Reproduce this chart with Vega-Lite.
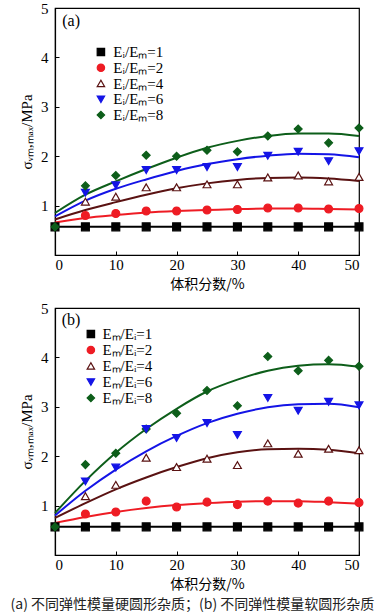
{
  "$schema": "https://vega.github.io/schema/vega-lite/v6.json",
  "background": "#ffffff",
  "padding": {"left": 10, "top": 0, "right": 2, "bottom": 0},
  "datasets": {
    "pa": [
      {"s": "1", "x": 0, "y": 0.57}, {"s": "1", "x": 5, "y": 0.57}, {"s": "1", "x": 10, "y": 0.57}, {"s": "1", "x": 15, "y": 0.57}, {"s": "1", "x": 20, "y": 0.57}, {"s": "1", "x": 25, "y": 0.57}, {"s": "1", "x": 30, "y": 0.57}, {"s": "1", "x": 35, "y": 0.57}, {"s": "1", "x": 40, "y": 0.57}, {"s": "1", "x": 45, "y": 0.57}, {"s": "1", "x": 50, "y": 0.57},
      {"s": "2", "x": 5, "y": 0.80}, {"s": "2", "x": 10, "y": 0.84}, {"s": "2", "x": 15, "y": 0.89}, {"s": "2", "x": 20, "y": 0.89}, {"s": "2", "x": 25, "y": 0.91}, {"s": "2", "x": 30, "y": 0.92}, {"s": "2", "x": 35, "y": 0.95}, {"s": "2", "x": 40, "y": 0.95}, {"s": "2", "x": 45, "y": 0.93}, {"s": "2", "x": 50, "y": 0.94},
      {"s": "4", "x": 5, "y": 1.08}, {"s": "4", "x": 10, "y": 1.18}, {"s": "4", "x": 15, "y": 1.37}, {"s": "4", "x": 20, "y": 1.37}, {"s": "4", "x": 25, "y": 1.43}, {"s": "4", "x": 30, "y": 1.43}, {"s": "4", "x": 35, "y": 1.57}, {"s": "4", "x": 40, "y": 1.61}, {"s": "4", "x": 45, "y": 1.49}, {"s": "4", "x": 50, "y": 1.58},
      {"s": "6", "x": 5, "y": 1.26}, {"s": "6", "x": 10, "y": 1.41}, {"s": "6", "x": 15, "y": 1.72}, {"s": "6", "x": 20, "y": 1.72}, {"s": "6", "x": 25, "y": 1.78}, {"s": "6", "x": 30, "y": 1.78}, {"s": "6", "x": 35, "y": 2.01}, {"s": "6", "x": 40, "y": 2.09}, {"s": "6", "x": 45, "y": 1.90}, {"s": "6", "x": 50, "y": 2.10},
      {"s": "8", "x": 5, "y": 1.40}, {"s": "8", "x": 10, "y": 1.61}, {"s": "8", "x": 15, "y": 2.02}, {"s": "8", "x": 20, "y": 2.00}, {"s": "8", "x": 25, "y": 2.12}, {"s": "8", "x": 30, "y": 2.09}, {"s": "8", "x": 35, "y": 2.41}, {"s": "8", "x": 40, "y": 2.55}, {"s": "8", "x": 45, "y": 2.27}, {"s": "8", "x": 50, "y": 2.57},
      {"s": "8", "x": 0, "y": 0.57}
    ],
    "fa": [
      {"s": "1", "x": 0, "y": 0.57}, {"s": "1", "x": 50, "y": 0.57},
      {"s": "2", "x": 0, "y": 0.66}, {"s": "2", "x": 5, "y": 0.75}, {"s": "2", "x": 10, "y": 0.81}, {"s": "2", "x": 15, "y": 0.86}, {"s": "2", "x": 20, "y": 0.89}, {"s": "2", "x": 25, "y": 0.91}, {"s": "2", "x": 30, "y": 0.93}, {"s": "2", "x": 35, "y": 0.94}, {"s": "2", "x": 40, "y": 0.94}, {"s": "2", "x": 45, "y": 0.93}, {"s": "2", "x": 50, "y": 0.92},
      {"s": "4", "x": 0, "y": 0.72}, {"s": "4", "x": 5, "y": 0.91}, {"s": "4", "x": 10, "y": 1.07}, {"s": "4", "x": 15, "y": 1.22}, {"s": "4", "x": 20, "y": 1.35}, {"s": "4", "x": 25, "y": 1.45}, {"s": "4", "x": 30, "y": 1.52}, {"s": "4", "x": 35, "y": 1.56}, {"s": "4", "x": 40, "y": 1.57}, {"s": "4", "x": 45, "y": 1.55}, {"s": "4", "x": 50, "y": 1.50},
      {"s": "6", "x": 0, "y": 0.78}, {"s": "6", "x": 5, "y": 1.10}, {"s": "6", "x": 10, "y": 1.34}, {"s": "6", "x": 15, "y": 1.53}, {"s": "6", "x": 20, "y": 1.70}, {"s": "6", "x": 25, "y": 1.84}, {"s": "6", "x": 30, "y": 1.94}, {"s": "6", "x": 35, "y": 2.01}, {"s": "6", "x": 40, "y": 2.05}, {"s": "6", "x": 45, "y": 2.04}, {"s": "6", "x": 50, "y": 1.98},
      {"s": "8", "x": 0, "y": 0.85}, {"s": "8", "x": 5, "y": 1.22}, {"s": "8", "x": 10, "y": 1.49}, {"s": "8", "x": 15, "y": 1.74}, {"s": "8", "x": 20, "y": 1.97}, {"s": "8", "x": 25, "y": 2.17}, {"s": "8", "x": 30, "y": 2.31}, {"s": "8", "x": 35, "y": 2.41}, {"s": "8", "x": 40, "y": 2.46}, {"s": "8", "x": 45, "y": 2.46}, {"s": "8", "x": 50, "y": 2.41}
    ],
    "pb": [
      {"s": "1", "x": 0, "y": 0.57}, {"s": "1", "x": 5, "y": 0.57}, {"s": "1", "x": 10, "y": 0.57}, {"s": "1", "x": 15, "y": 0.57}, {"s": "1", "x": 20, "y": 0.57}, {"s": "1", "x": 25, "y": 0.57}, {"s": "1", "x": 30, "y": 0.57}, {"s": "1", "x": 35, "y": 0.57}, {"s": "1", "x": 40, "y": 0.57}, {"s": "1", "x": 45, "y": 0.57}, {"s": "1", "x": 50, "y": 0.57},
      {"s": "2", "x": 5, "y": 0.83}, {"s": "2", "x": 10, "y": 0.87}, {"s": "2", "x": 15, "y": 1.09}, {"s": "2", "x": 20, "y": 0.97}, {"s": "2", "x": 25, "y": 1.07}, {"s": "2", "x": 30, "y": 1.02}, {"s": "2", "x": 35, "y": 1.09}, {"s": "2", "x": 40, "y": 1.05}, {"s": "2", "x": 45, "y": 1.09}, {"s": "2", "x": 50, "y": 1.06},
      {"s": "4", "x": 5, "y": 1.19}, {"s": "4", "x": 10, "y": 1.42}, {"s": "4", "x": 15, "y": 1.97}, {"s": "4", "x": 20, "y": 1.78}, {"s": "4", "x": 25, "y": 1.95}, {"s": "4", "x": 30, "y": 1.82}, {"s": "4", "x": 35, "y": 2.26}, {"s": "4", "x": 40, "y": 2.05}, {"s": "4", "x": 45, "y": 2.15}, {"s": "4", "x": 50, "y": 2.12},
      {"s": "8", "x": 5, "y": 1.83}, {"s": "8", "x": 10, "y": 2.06}, {"s": "8", "x": 15, "y": 2.55}, {"s": "8", "x": 20, "y": 2.87}, {"s": "8", "x": 25, "y": 3.33}, {"s": "8", "x": 30, "y": 3.02}, {"s": "8", "x": 35, "y": 4.02}, {"s": "8", "x": 40, "y": 3.73}, {"s": "8", "x": 45, "y": 3.94}, {"s": "8", "x": 50, "y": 3.82},
      {"s": "6", "x": 5, "y": 1.49}, {"s": "6", "x": 10, "y": 1.77}, {"s": "6", "x": 15, "y": 2.55}, {"s": "6", "x": 20, "y": 2.37}, {"s": "6", "x": 25, "y": 2.67}, {"s": "6", "x": 30, "y": 2.43}, {"s": "6", "x": 35, "y": 3.18}, {"s": "6", "x": 40, "y": 2.92}, {"s": "6", "x": 45, "y": 3.10}, {"s": "6", "x": 50, "y": 3.03},
      {"s": "8", "x": 0, "y": 0.57}
    ],
    "fb": [
      {"s": "1", "x": 0, "y": 0.57}, {"s": "1", "x": 50, "y": 0.57},
      {"s": "2", "x": 0, "y": 0.65}, {"s": "2", "x": 5, "y": 0.77}, {"s": "2", "x": 10, "y": 0.87}, {"s": "2", "x": 15, "y": 0.95}, {"s": "2", "x": 20, "y": 1.01}, {"s": "2", "x": 25, "y": 1.05}, {"s": "2", "x": 30, "y": 1.08}, {"s": "2", "x": 35, "y": 1.09}, {"s": "2", "x": 40, "y": 1.09}, {"s": "2", "x": 45, "y": 1.07}, {"s": "2", "x": 50, "y": 1.04},
      {"s": "4", "x": 0, "y": 0.75}, {"s": "4", "x": 5, "y": 1.05}, {"s": "4", "x": 10, "y": 1.33}, {"s": "4", "x": 15, "y": 1.57}, {"s": "4", "x": 20, "y": 1.78}, {"s": "4", "x": 25, "y": 1.96}, {"s": "4", "x": 30, "y": 2.08}, {"s": "4", "x": 35, "y": 2.14}, {"s": "4", "x": 40, "y": 2.15}, {"s": "4", "x": 45, "y": 2.13}, {"s": "4", "x": 50, "y": 2.06},
      {"s": "6", "x": 0, "y": 0.80}, {"s": "6", "x": 5, "y": 1.30}, {"s": "6", "x": 10, "y": 1.73}, {"s": "6", "x": 15, "y": 2.10}, {"s": "6", "x": 20, "y": 2.41}, {"s": "6", "x": 25, "y": 2.67}, {"s": "6", "x": 30, "y": 2.86}, {"s": "6", "x": 35, "y": 2.99}, {"s": "6", "x": 40, "y": 3.05}, {"s": "6", "x": 45, "y": 3.06}, {"s": "6", "x": 50, "y": 2.99},
      {"s": "8", "x": 0, "y": 0.85}, {"s": "8", "x": 5, "y": 1.50}, {"s": "8", "x": 10, "y": 2.07}, {"s": "8", "x": 15, "y": 2.55}, {"s": "8", "x": 20, "y": 2.96}, {"s": "8", "x": 25, "y": 3.31}, {"s": "8", "x": 30, "y": 3.55}, {"s": "8", "x": 35, "y": 3.73}, {"s": "8", "x": 40, "y": 3.83}, {"s": "8", "x": 45, "y": 3.86}, {"s": "8", "x": 50, "y": 3.81}
    ],
    "la": [
      {"s": "1", "t": "Eᵢ/Eₘ=1"}, {"s": "2", "t": "Eᵢ/Eₘ=2"}, {"s": "4", "t": "Eᵢ/Eₘ=4"}, {"s": "6", "t": "Eᵢ/Eₘ=6"}, {"s": "8", "t": "Eᵢ/Eₘ=8"}
    ],
    "lb": [
      {"s": "1", "t": "Eₘ/Eᵢ=1"}, {"s": "2", "t": "Eₘ/Eᵢ=2"}, {"s": "4", "t": "Eₘ/Eᵢ=4"}, {"s": "6", "t": "Eₘ/Eᵢ=6"}, {"s": "8", "t": "Eₘ/Eᵢ=8"}
    ]
  },
  "title": {
    "text": "(a) 不同弹性模量硬圆形杂质；(b) 不同弹性模量软圆形杂质",
    "orient": "bottom",
    "anchor": "middle",
    "font": "Noto Sans CJK SC",
    "fontSize": 14,
    "fontWeight": "normal",
    "color": "#222222",
    "offset": 6
  },
  "spacing": 8,
  "resolve": {"scale": {"x": "independent", "y": "independent"}},
  "vconcat": [
    {
      "width": 304,
      "height": 247,
      "resolve": {"scale": {"y": "independent"}},
      "layer": [
        {
          "layer": [
            {
              "data": {"name": "fa"},
              "mark": {"type": "line", "interpolate": "monotone", "strokeWidth": 2},
              "encoding": {
                "x": {"field": "x", "type": "quantitative", "scale": {"domain": [0, 50]}},
                "y": {"field": "y", "type": "quantitative", "scale": {"domain": [0, 5]}},
                "detail": {"field": "s", "type": "nominal"},
                "stroke": {"field": "s", "type": "nominal", "scale": {"domain": ["1", "2", "4", "6", "8"], "range": ["#000000", "#ee1c24", "#5a1212", "#1414e6", "#0d5e1a"]}, "legend": null}
              }
            },
            {
              "data": {"name": "pa"},
              "mark": {"type": "point", "size": 62, "strokeWidth": 1.2, "opacity": 1, "fillOpacity": 1},
              "encoding": {
                "x": {"field": "x", "type": "quantitative", "scale": {"domain": [0, 50]}, "axis": {"values": [0, 10, 20, 30, 40, 50], "title": "体积分数/%"}},
                "y": {"field": "y", "type": "quantitative", "scale": {"domain": [0, 5]}, "axis": {"values": [1, 2, 3, 4, 5], "title": "σᵥₘ,ₘₐₓ/MPa"}},
                "shape": {"field": "s", "type": "nominal", "scale": {"domain": ["1", "2", "4", "6", "8"], "range": ["square", "circle", "triangle-up", "triangle-down", "diamond"]}, "legend": null},
                "fill": {"field": "s", "type": "nominal", "scale": {"domain": ["1", "2", "4", "6", "8"], "range": ["#000000", "#ee1c24", "#ffffff", "#1414e6", "#0d5e1a"]}, "legend": null},
                "stroke": {"field": "s", "type": "nominal", "legend": null}
              }
            },
            {
              "data": {"values": [{}]},
              "mark": {"type": "text", "font": "Liberation Serif", "fontSize": 16, "color": "#000000"},
              "encoding": {
                "x": {"datum": 2.65, "type": "quantitative"},
                "y": {"datum": 4.74, "type": "quantitative"},
                "text": {"value": "(a)"}
              }
            }
          ]
        },
        {
          "data": {"name": "la"},
          "encoding": {
            "y": {"field": "s", "type": "ordinal", "scale": {"type": "point", "domain": ["1", "2", "4", "6", "8"], "range": [44, 107], "padding": 0}, "axis": null}
          },
          "layer": [
            {
              "mark": {"type": "point", "size": 55, "strokeWidth": 1.2, "opacity": 1, "fillOpacity": 1},
              "encoding": {
                "x": {"datum": 7.55, "type": "quantitative"},
                "shape": {"field": "s", "type": "nominal", "legend": null},
                "fill": {"field": "s", "type": "nominal", "legend": null},
                "stroke": {"field": "s", "type": "nominal", "legend": null}
              }
            },
            {
              "mark": {"type": "text", "align": "left", "baseline": "middle", "font": "Liberation Serif", "fontSize": 15, "color": "#000000"},
              "encoding": {
                "x": {"datum": 9.6, "type": "quantitative"},
                "text": {"field": "t"}
              }
            }
          ]
        }
      ]
    },
    {
      "width": 304,
      "height": 247,
      "resolve": {"scale": {"y": "independent"}},
      "layer": [
        {
          "layer": [
            {
              "data": {"name": "fb"},
              "mark": {"type": "line", "interpolate": "monotone", "strokeWidth": 2},
              "encoding": {
                "x": {"field": "x", "type": "quantitative", "scale": {"domain": [0, 50]}},
                "y": {"field": "y", "type": "quantitative", "scale": {"domain": [0, 5]}},
                "detail": {"field": "s", "type": "nominal"},
                "stroke": {"field": "s", "type": "nominal", "scale": {"domain": ["1", "2", "4", "6", "8"], "range": ["#000000", "#ee1c24", "#5a1212", "#1414e6", "#0d5e1a"]}, "legend": null}
              }
            },
            {
              "data": {"name": "pb"},
              "mark": {"type": "point", "size": 62, "strokeWidth": 1.2, "opacity": 1, "fillOpacity": 1},
              "encoding": {
                "x": {"field": "x", "type": "quantitative", "scale": {"domain": [0, 50]}, "axis": {"values": [0, 10, 20, 30, 40, 50], "title": "体积分数/%"}},
                "y": {"field": "y", "type": "quantitative", "scale": {"domain": [0, 5]}, "axis": {"values": [1, 2, 3, 4, 5], "title": "σᵥₘ,ₘₐₓ/MPa"}},
                "shape": {"field": "s", "type": "nominal", "scale": {"domain": ["1", "2", "4", "6", "8"], "range": ["square", "circle", "triangle-up", "triangle-down", "diamond"]}, "legend": null},
                "fill": {"field": "s", "type": "nominal", "scale": {"domain": ["1", "2", "4", "6", "8"], "range": ["#000000", "#ee1c24", "#ffffff", "#1414e6", "#0d5e1a"]}, "legend": null},
                "stroke": {"field": "s", "type": "nominal", "legend": null}
              }
            },
            {
              "data": {"values": [{}]},
              "mark": {"type": "text", "font": "Liberation Serif", "fontSize": 16, "color": "#000000"},
              "encoding": {
                "x": {"datum": 2.65, "type": "quantitative"},
                "y": {"datum": 4.76, "type": "quantitative"},
                "text": {"value": "(b)"}
              }
            }
          ]
        },
        {
          "data": {"name": "lb"},
          "encoding": {
            "y": {"field": "s", "type": "ordinal", "scale": {"type": "point", "domain": ["1", "2", "4", "6", "8"], "range": [26, 90], "padding": 0}, "axis": null}
          },
          "layer": [
            {
              "mark": {"type": "point", "size": 55, "strokeWidth": 1.2, "opacity": 1, "fillOpacity": 1},
              "encoding": {
                "x": {"datum": 5.9, "type": "quantitative"},
                "shape": {"field": "s", "type": "nominal", "legend": null},
                "fill": {"field": "s", "type": "nominal", "legend": null},
                "stroke": {"field": "s", "type": "nominal", "legend": null}
              }
            },
            {
              "mark": {"type": "text", "align": "left", "baseline": "middle", "font": "Liberation Serif", "fontSize": 15, "color": "#000000"},
              "encoding": {
                "x": {"datum": 7.8, "type": "quantitative"},
                "text": {"field": "t"}
              }
            }
          ]
        }
      ]
    }
  ],
  "config": {
    "view": {"stroke": "#000000", "strokeWidth": 1.2},
    "axis": {
      "grid": false,
      "domainColor": "#000000",
      "domainWidth": 1.2,
      "tickColor": "#000000",
      "tickSize": -4,
      "tickWidth": 1,
      "labelFont": "Liberation Serif",
      "labelFontSize": 15,
      "labelColor": "#000000",
      "titleFont": "Noto Sans CJK SC",
      "titleFontSize": 14,
      "titleFontWeight": "normal",
      "titleColor": "#000000"
    },
    "axisX": {"labelPadding": 6, "titlePadding": 5},
    "axisY": {"labelPadding": 11, "titlePadding": 6, "titleFont": "Liberation Serif", "titleFontSize": 15}
  }
}
